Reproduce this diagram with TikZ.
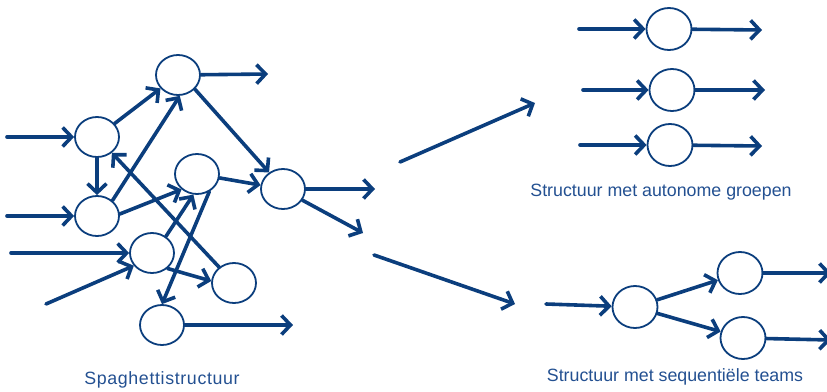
\documentclass[tikz,border=0pt]{standalone}
\usepackage{fontspec}
\setmainfont{Liberation Sans}
\usetikzlibrary{arrows.meta,shapes.geometric}
\definecolor{navy}{RGB}{11,62,125}
\definecolor{labelblue}{RGB}{35,80,145}
\tikzset{
  team/.style={ellipse, draw=navy, line width=1.8pt, fill=white,
    minimum width=44pt, minimum height=40pt, inner sep=0pt},
  wideteam/.style={team, minimum width=45pt, minimum height=42pt},
  flow/.style={draw=navy, line width=3.6pt, line cap=round,
    -{Straight Barb[length=9pt,width=19pt]}},
  caption/.style={text=labelblue, font=\fontsize{17.8}{20}\selectfont, inner sep=0pt}
}
\begin{document}
\begin{tikzpicture}[x=1pt,y=-1pt]
\useasboundingbox (0,0) rectangle (827,391);

% ---- spaghetti structure ----
\node[team] (A) at (178,75) {};
\node[team] (B) at (97,137) {};
\node[team] (C) at (97,216) {};
\node[team] (D) at (197,174) {};
\node[team] (E) at (283,189) {};
\node[team] (F) at (152,253) {};
\node[team] (G) at (234,283) {};
\node[team] (H) at (162,325) {};

\coordinate (inB) at (7,137);
\coordinate (inC) at (7,216);
\coordinate (inF) at (11,253);
\coordinate (inF2) at (46,304);
\coordinate (outA) at (268,74);
\coordinate (outE) at (375,189);
\coordinate (outE2) at (363,233);
\coordinate (outH) at (293,325);

\draw[flow] (inB) -- (B);
\draw[flow] (inC) -- (C);
\draw[flow] (inF) -- (F);
\draw[flow] (inF2) -- (F.215);
\draw[flow] (B) -- (A);
\draw[flow] (C.45) -- (A.-85);
\draw[flow] (B) -- (C);
\draw[flow] (G) -- (B);
\draw[flow] (C.5) -- (D.225);
\draw[flow] (F.50) -- (D.-100);
\draw[flow] (D.-55) -- (H.90);
\draw[flow] (F.-45) -- (G.175);
\draw[flow] (A.-40) -- (E.130);
\draw[flow] (D) -- (E);
\draw[flow] (A) -- (outA);
\draw[flow] (E) -- (outE);
\draw[flow] (E.-30) -- (outE2);
\draw[flow] (H) -- (outH);

\node[caption, font=\fontsize{17.8}{20}\selectfont\addfontfeature{LetterSpace=3.6}] (spag) at (162,380) {Spaghettistructuur};

% ---- transitions ----
\coordinate (upS) at (400,162);
\coordinate (upE) at (535,103);
\coordinate (dnS) at (374,255);
\coordinate (dnE) at (515,304);
\draw[flow] (upS) -- (upE);
\draw[flow] (dnS) -- (dnE);

% ---- autonomous groups ----
\node[wideteam] (P) at (669,29) {};
\node[wideteam] (Q) at (672,90) {};
\node[wideteam] (R) at (670,145) {};
\coordinate (inP) at (579,29);
\coordinate (inQ) at (583,90);
\coordinate (inR) at (580,145);
\coordinate (outP) at (762,30);
\coordinate (outQ) at (765,90);
\coordinate (outR) at (762,146);
\draw[flow] (inP) -- (P);
\draw[flow] (inQ) -- (Q);
\draw[flow] (inR) -- (R);
\draw[flow] (P) -- (outP);
\draw[flow] (Q) -- (outQ);
\draw[flow] (R) -- (outR);
\node[caption] (auto) at (661,192) {Structuur met autonome groepen};

% ---- sequential teams ----
\node[wideteam] (S1) at (635,307) {};
\node[wideteam] (S2) at (740,273) {};
\node[wideteam] (S3) at (743,338) {};
\coordinate (inS) at (546,304);
\coordinate (outS2) at (831,273);
\coordinate (outS3) at (831,340);
\draw[flow] (inS) -- (S1);
\draw[flow] (S1) -- (S2);
\draw[flow] (S1) -- (S3);
\draw[flow] (S2) -- (outS2);
\draw[flow] (S3) -- (outS3);
\node[caption] (seq) at (675,377) {Structuur met sequentiële teams};
\end{tikzpicture}
\end{document}
